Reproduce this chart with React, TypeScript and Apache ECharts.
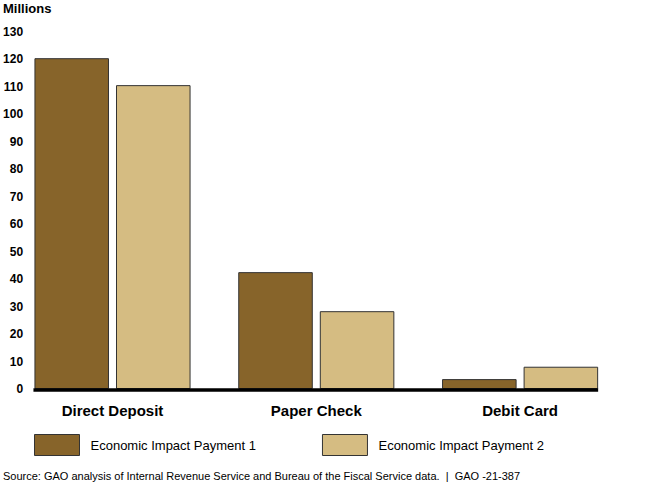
import React, { useEffect, useRef } from "react";
import * as echarts from "echarts";

const categories = ["Direct Deposit", "Paper Check", "Debit Card"];
const seriesNames = ["Economic Impact Payment 1", "Economic Impact Payment 2"];
const eip1 = [120.3, 42.5, 3.6];
const eip2 = [110.5, 28.3, 8.1];
const yTicks = { min: 0, max: 130, interval: 10 };
const unitLabel = "Millions";
const sourceNote =
  "Source: GAO analysis of Internal Revenue Service and Bureau of the Fiscal Service data.  |  GAO -21-387";

const FONT = "'Liberation Sans', Arial, Helvetica, sans-serif";
const COLORS = ["#87642a", "#d5bc82"];
const BORDER = "#333333";

export default function App() {
  const ref = useRef<HTMLDivElement>(null);

  useEffect(() => {
    if (!ref.current) return;
    const chart = echarts.init(ref.current, undefined, { renderer: "svg" });
    const gridLeft = 10.6;
    const gridRight = 50;
    const gridTop = 31.5;
    const gridBottom = 98;
    const catGap = 0.234;
    chart.setOption({
      animation: false,
      textStyle: { fontFamily: FONT },
      title: [
        {
          text: unitLabel,
          left: 3,
          top: 2,
          padding: 0,
          textStyle: { fontSize: 13, fontWeight: "bold", color: "#000", fontFamily: FONT },
        },
        {
          text: sourceNote,
          left: 3,
          top: 470,
          padding: 0,
          textStyle: { fontSize: 11, fontWeight: "normal", color: "#000", fontFamily: FONT },
        },
      ],
      legend: {
        left: 34,
        top: 434,
        padding: 0,
        itemWidth: 45,
        itemHeight: 21,
        itemGap: 66,
        icon: "rect",
        data: seriesNames,
        itemStyle: { borderColor: BORDER, borderWidth: 1 },
        textStyle: { fontSize: 13, color: "#000", fontFamily: FONT, padding: [0, 0, 0, 6] },
        selectedMode: false,
      },
      grid: { left: gridLeft, right: gridRight, top: gridTop, bottom: gridBottom, containLabel: false },
      xAxis: {
        type: "category",
        data: categories,
        axisLine: { show: false },
        axisTick: { show: false },
        axisLabel: { margin: 14, fontSize: 15, fontWeight: "bold", color: "#000", fontFamily: FONT },
      },
      yAxis: {
        type: "value",
        min: yTicks.min,
        max: yTicks.max,
        interval: yTicks.interval,
        splitLine: { show: false },
        axisLine: { show: false },
        axisTick: { show: false },
        axisLabel: { margin: -12.5, fontSize: 12, fontWeight: "bold", color: "#000", fontFamily: FONT },
      },
      series: [
        {
          name: seriesNames[0],
          type: "bar",
          data: eip1,
          barCategoryGap: catGap * 100 + "%",
          barGap: "9.4%",
          itemStyle: { color: COLORS[0], borderColor: BORDER, borderWidth: 1 },
        },
        {
          name: seriesNames[1],
          type: "bar",
          data: eip2,
          barCategoryGap: catGap * 100 + "%",
          barGap: "9.4%",
          itemStyle: { color: COLORS[1], borderColor: BORDER, borderWidth: 1 },
        },
      ],
    });

    // thick baseline spanning the bar groups, positioned from the axis scales
    const p0 = chart.convertToPixel({ xAxisIndex: 0 }, categories[0]) as number;
    const p1 = chart.convertToPixel({ xAxisIndex: 0 }, categories[1]) as number;
    const p2 = chart.convertToPixel({ xAxisIndex: 0 }, categories[categories.length - 1]) as number;
    const band = p1 - p0;
    const half = (band * (1 - catGap)) / 2;
    const y0 = chart.convertToPixel({ yAxisIndex: 0 }, 0) as number;
    chart.setOption({
      graphic: [
        {
          type: "line",
          shape: { x1: p0 - half - 1, y1: y0 + 1, x2: p2 + half, y2: y0 + 1 },
          style: { stroke: "#000", lineWidth: 3.5 },
          z: 10,
        },
      ],
    });

    return () => chart.dispose();
  }, []);

  return (
    <div
      ref={ref}
      style={{ position: "absolute", left: 0, top: 0, width: 672, height: 487, background: "#fff" }}
    />
  );
}
